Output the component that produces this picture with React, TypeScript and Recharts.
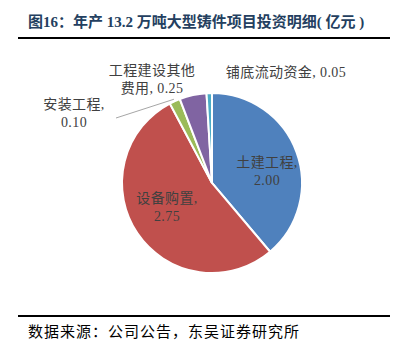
import React from "react";
import { PieChart, Pie, Cell } from "recharts";

const categories = ["土建工程", "设备购置", "安装工程", "工程建设其他费用", "铺底流动资金"];
const values = [2.0, 2.75, 0.1, 0.25, 0.05];
const valueLabels = ["2.00", "2.75", "0.10", "0.25", "0.05"];
const colors = ["#4F81BD", "#C0504D", "#9BBB59", "#8064A2", "#4BACC6"];

const titleText = "图16：年产 13.2 万吨大型铸件项目投资明细( 亿元 )";
const sourceText = "数据来源：公司公告，东吴证券研究所";

const data = categories.map((name, i) => ({ name, value: values[i] }));

const FONT = "'Liberation Serif', 'Noto Sans CJK SC', serif";
const LABEL_COLOR = "#404040";

// label placement relative to pie center (layout config)
const labelLayout: { lines: (i: number) => string[]; dx: number; dy: number; anchor: string }[] = [
  { lines: (i) => [categories[i] + ",", valueLabels[i]], dx: 55, dy: -16, anchor: "middle" },
  { lines: (i) => [categories[i] + ",", valueLabels[i]], dx: -45, dy: 20, anchor: "middle" },
  { lines: (i) => [categories[i] + ",", valueLabels[i]], dx: -138, dy: -74, anchor: "middle" },
  { lines: () => ["工程建设其他", "费用, " + valueLabels[3]], dx: -60, dy: -108, anchor: "middle" },
  { lines: (i) => [categories[i] + ", " + valueLabels[i]], dx: 74, dy: -106, anchor: "middle" },
];

const renderLabel = (props: any) => {
  const { cx, cy, index, midAngle, outerRadius } = props;
  const L = labelLayout[index];
  const lines = L.lines(index);
  const x = cx + L.dx;
  const y = cy + L.dy;
  const RAD = Math.PI / 180;
  let line = null;
  if (index === 2) {
    const sx = cx + (outerRadius + 2) * Math.cos(-midAngle * RAD);
    const sy = cy + (outerRadius + 2) * Math.sin(-midAngle * RAD);
    line = (
      <polyline
        points={`${sx},${sy} ${cx - 96},${cy - 65}`}
        fill="none"
        stroke="#A6A6A6"
        strokeWidth={1}
      />
    );
  }
  return (
    <g key={`lbl-${index}`}>
      {line}
      <text
        x={x}
        y={y}
        textAnchor={L.anchor as any}
        fill={LABEL_COLOR}
        fontFamily={FONT}
        fontSize={14}
        letterSpacing={0.4}
      >
        {lines.map((t, k) => (
          <tspan key={k} x={x} dy={k === 0 ? 0 : 18}>
            {t}
          </tspan>
        ))}
      </text>
    </g>
  );
};

export default function App() {
  return (
    <div
      style={{
        position: "absolute",
        left: 0,
        top: 0,
        width: 404,
        height: 358,
        background: "#fff",
        overflow: "hidden",
      }}
    >
      <div
        style={{
          position: "absolute",
          left: 28,
          top: 10,
          fontFamily: "'Liberation Serif', 'Noto Sans CJK SC', serif",
          fontWeight: 700,
          fontSize: 15,
          color: "#243F60",
          whiteSpace: "nowrap",
        }}
      >
        {titleText}
      </div>
      <div
        style={{
          position: "absolute",
          left: 18,
          top: 37,
          width: 372,
          height: 2,
          background: "#000",
        }}
      />
      <div style={{ position: "absolute", left: 0, top: 0 }}>
        <PieChart width={404} height={358}>
          <Pie
            data={data}
            dataKey="value"
            nameKey="name"
            cx={207}
            cy={178}
            outerRadius={90}
            startAngle={90}
            endAngle={-270}
            stroke="#fff"
            strokeWidth={2}
            label={renderLabel}
            labelLine={false}
            isAnimationActive={false}
          >
            {data.map((d, i) => (
              <Cell key={d.name} fill={colors[i]} />
            ))}
          </Pie>
        </PieChart>
      </div>
      <div
        style={{
          position: "absolute",
          left: 18,
          top: 315,
          width: 372,
          height: 2,
          background: "#000",
        }}
      />
      <div
        style={{
          position: "absolute",
          left: 28,
          top: 320,
          fontFamily: "'Noto Sans CJK SC', serif",
          fontSize: 15,
          letterSpacing: 1,
          color: "#000",
          whiteSpace: "nowrap",
        }}
      >
        {sourceText}
      </div>
    </div>
  );
}
